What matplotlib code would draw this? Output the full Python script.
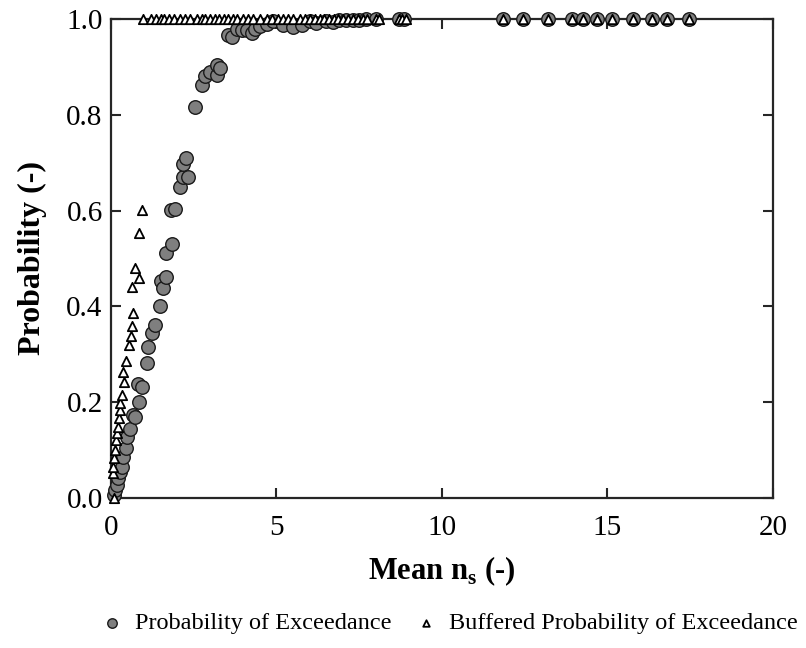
import numpy as np
import matplotlib
matplotlib.use("Agg")
import matplotlib.pyplot as plt

plt.rcParams['font.family'] = ['Liberation Serif', 'DejaVu Serif']
plt.rcParams['mathtext.fontset'] = 'custom'
plt.rcParams['mathtext.rm'] = 'Liberation Serif'
plt.rcParams['mathtext.bf'] = 'Liberation Serif:bold'

# probability of exceedance (circles)
poe_x = [0.09, 0.12, 0.17, 0.22, 0.27, 0.32, 0.37, 0.45, 0.47, 0.57, 0.67, 0.73,
         0.85, 0.83, 0.93, 1.08, 1.13, 1.23, 1.33, 1.48, 1.50, 1.58, 1.66, 1.66,
         1.83, 1.80, 1.93, 2.08, 2.18, 2.18, 2.28, 2.33, 2.54, 2.74, 2.84, 2.99,
         3.19, 3.19, 3.29, 3.54, 3.65, 3.8, 3.95, 4.1, 4.25, 4.35,
         4.5, 4.7, 4.9, 5.2, 5.5, 5.76, 6.0, 6.2, 6.5, 6.7, 6.9, 7.1, 7.3, 7.5,
         7.7, 8.0, 8.7, 8.85,
         11.83, 12.44, 13.21, 13.92, 14.27, 14.67, 15.13, 15.78, 16.34, 16.79, 17.47]
poe_y = [0.006, 0.017, 0.027, 0.041, 0.055, 0.065, 0.086, 0.104, 0.127, 0.145, 0.173, 0.170,
         0.201, 0.239, 0.232, 0.281, 0.316, 0.345, 0.361, 0.400, 0.452, 0.438, 0.461, 0.512,
         0.530, 0.601, 0.603, 0.650, 0.670, 0.697, 0.709, 0.671, 0.817, 0.862, 0.880, 0.890,
         0.883, 0.904, 0.897, 0.967, 0.962, 0.980, 0.978, 0.977, 0.970, 0.980,
         0.985, 0.990, 0.995, 0.987, 0.984, 0.987, 0.995, 0.992, 0.996, 0.993, 0.997, 0.998, 0.997, 0.998,
         0.999, 1.0, 1.0, 1.0,
         1.0, 1.0, 1.0, 1.0, 1.0, 1.0, 1.0, 1.0, 1.0, 1.0, 1.0]

# buffered probability of exceedance (triangles)
bpoe_x = [0.09, 0.07, 0.07, 0.09, 0.12, 0.15, 0.17, 0.22, 0.25, 0.27, 0.27, 0.32,
          0.39, 0.37, 0.45, 0.55, 0.61, 0.64, 0.66, 0.63, 0.85, 0.72, 0.85, 0.93,
          0.98, 1.2, 1.35, 1.5, 1.6, 1.75, 1.9, 2.1, 2.25, 2.4, 2.6, 2.75, 2.85, 3.0,
          3.15, 3.25, 3.4, 3.55, 3.7, 3.8, 4.0, 4.15, 4.3, 4.5, 4.7, 4.85, 5.05, 5.2,
          5.35, 5.5, 5.7, 5.85, 6.0, 6.15, 6.3, 6.45, 6.6, 6.75, 6.85, 7.0, 7.15, 7.3,
          7.45, 7.6, 7.75, 8.0, 8.1, 8.7, 8.8, 8.9,
          11.83, 12.44, 13.21, 13.92, 14.27, 14.67, 15.13, 15.78, 16.34, 16.79, 17.47]
bpoe_y = [0.0, 0.052, 0.065, 0.083, 0.100, 0.121, 0.135, 0.149, 0.166, 0.184, 0.199, 0.215,
          0.243, 0.262, 0.285, 0.319, 0.338, 0.359, 0.387, 0.441, 0.459, 0.480, 0.554, 0.601] + [1.0] * 61

fig, ax = plt.subplots(figsize=(8.06, 6.48), dpi=100)
fig.subplots_adjust(left=0.1377, right=0.959, bottom=0.2315, top=0.9707)

ax.scatter(poe_x, poe_y, s=95, marker='o', facecolor='#7f7f7f', edgecolor='#1a1a1a',
           linewidth=1.0, clip_on=False, zorder=3, label='Probability of Exceedance')
ax.scatter(bpoe_x, bpoe_y, s=45, marker='^', facecolor='white', edgecolor='black',
           linewidth=1.3, clip_on=False, zorder=4, label='Buffered Probability of Exceedance')

ax.set_xlim(0, 20)
ax.set_ylim(0, 1)
ax.set_xticks([0, 5, 10, 15, 20])
ax.set_yticks(np.arange(0, 1.01, 0.2))
ax.set_yticklabels([f'{v:.1f}' for v in np.arange(0, 1.01, 0.2)])
ax.tick_params(direction='in', length=7, width=1.5, top=True, right=True,
               labelsize=21, color='#262626')
ax.tick_params(axis='x', pad=12)
ax.tick_params(axis='y', pad=6)
for sp in ax.spines.values():
    sp.set_linewidth(1.6)
    sp.set_color('#262626')

ax.set_xlabel(r'Mean n$_{\mathbf{s}}$ (-)', fontsize=22, fontweight='bold', labelpad=10)
ax.set_ylabel('Probability (-)', fontsize=23, fontweight='bold', labelpad=14)

leg = fig.legend(loc='center', bbox_to_anchor=(0.555, 0.038), ncol=2, frameon=False,
                 fontsize=17.5, handletextpad=0.35, columnspacing=0.8, markerscale=0.7,
                 handlelength=1.2)

plt.savefig('out.png', dpi=100)
